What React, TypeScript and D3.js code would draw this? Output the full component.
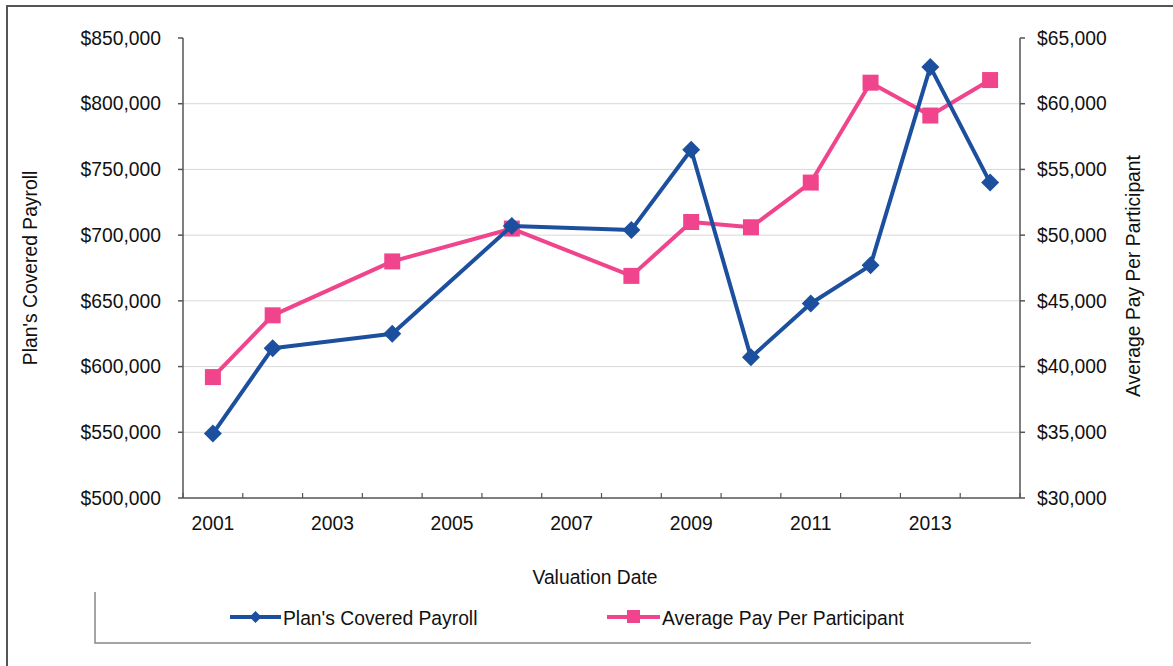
import React, { useEffect, useRef } from "react";
import * as d3 from "d3";

const years = [2001, 2002, 2004, 2006, 2008, 2009, 2010, 2011, 2012, 2013, 2014];
const payroll = [549000, 614000, 625000, 707000, 704000, 765000, 607000, 648000, 677000, 828000, 740000];
const avgPay = [39200, 43900, 48000, 50500, 46900, 51000, 50600, 54000, 61600, 59100, 61800];
const xTickYears = [2001, 2003, 2005, 2007, 2009, 2011, 2013];
const leftTicks = [500000, 550000, 600000, 650000, 700000, 750000, 800000, 850000];
const rightTicks = [30000, 35000, 40000, 45000, 50000, 55000, 60000, 65000];
const seriesNames = ["Plan's Covered Payroll", "Average Pay Per Participant"];

const BLUE = "#1d4f9f";
const PINK = "#f0448c";
const AXIS = "#555";
const GRID = "#d9d9d9";
const FONT = "'Liberation Sans', Arial, sans-serif";
const FS = 19.3;

export default function App() {
  const ref = useRef<SVGSVGElement>(null);
  useEffect(() => {
    const svg = d3.select(ref.current);
    svg.selectAll("*").remove();
    const W = 1173, H = 666;
    const L = 183, R = 1020, T = 38, B = 498;

    svg.append("rect").attr("width", W).attr("height", H).attr("fill", "#fff");
    svg.append("path").attr("d", `M7,${H} L7,6 L${W},6`).attr("fill", "none").attr("stroke", AXIS).attr("stroke-width", 2);

    const x = d3.scaleLinear().domain([2000.5, 2014.5]).range([L, R]);
    const yL = d3.scaleLinear().domain([500000, 850000]).range([B, T]);
    const yR = d3.scaleLinear().domain([30000, 65000]).range([B, T]);
    const money = d3.format("$,.0f");

    svg.append("g").selectAll("line").data(leftTicks.filter(t => t > 500000 && t < 850000)).join("line")
      .attr("x1", L).attr("x2", R).attr("y1", d => yL(d)).attr("y2", d => yL(d))
      .attr("stroke", GRID).attr("stroke-width", 1);

    const gl = svg.append("g").attr("font-family", FONT).attr("font-size", FS).attr("fill", "#111");
    gl.append("line").attr("x1", L).attr("x2", L).attr("y1", T).attr("y2", B).attr("stroke", AXIS).attr("stroke-width", 1.5);
    gl.selectAll("line.t").data(leftTicks).join("line").attr("class", "t")
      .attr("x1", L - 5).attr("x2", L).attr("y1", d => yL(d)).attr("y2", d => yL(d)).attr("stroke", AXIS).attr("stroke-width", 1.5);
    gl.selectAll("text").data(leftTicks).join("text")
      .attr("x", 161).attr("y", d => yL(d)).attr("dy", "0.35em").attr("text-anchor", "end").text(d => money(d));

    const gr = svg.append("g").attr("font-family", FONT).attr("font-size", FS).attr("fill", "#111");
    gr.append("line").attr("x1", R).attr("x2", R).attr("y1", T).attr("y2", B).attr("stroke", AXIS).attr("stroke-width", 1.5);
    gr.selectAll("line.t").data(rightTicks).join("line").attr("class", "t")
      .attr("x1", R).attr("x2", R + 5).attr("y1", d => yR(d)).attr("y2", d => yR(d)).attr("stroke", AXIS).attr("stroke-width", 1.5);
    gr.selectAll("text").data(rightTicks).join("text")
      .attr("x", 1037).attr("y", d => yR(d)).attr("dy", "0.35em").attr("text-anchor", "start").text(d => money(d));

    const gx = svg.append("g").attr("font-family", FONT).attr("font-size", FS).attr("fill", "#111");
    gx.append("line").attr("x1", L).attr("x2", R).attr("y1", B).attr("y2", B).attr("stroke", AXIS).attr("stroke-width", 1.5);
    const bounds = d3.range(2000.5, 2015, 1);
    gx.selectAll("line.t").data(bounds).join("line").attr("class", "t")
      .attr("x1", d => x(d)).attr("x2", d => x(d)).attr("y1", B - 5).attr("y2", B).attr("stroke", AXIS).attr("stroke-width", 1.2);
    gx.selectAll("text").data(xTickYears).join("text")
      .attr("x", d => x(d)).attr("y", 530).attr("text-anchor", "middle").text(d => String(d));

    svg.append("text").attr("font-family", FONT).attr("font-size", FS).attr("fill", "#111")
      .attr("x", 595).attr("y", 584).attr("text-anchor", "middle").text("Valuation Date");
    svg.append("text").attr("font-family", FONT).attr("font-size", FS).attr("fill", "#111")
      .attr("transform", `translate(37,${268}) rotate(-90)`).attr("text-anchor", "middle").text(seriesNames[0]);
    svg.append("text").attr("font-family", FONT).attr("font-size", FS).attr("fill", "#111")
      .attr("transform", `translate(1140,${276}) rotate(-90)`).attr("text-anchor", "middle").text(seriesNames[1]);

    const payData = years.map((yr, i) => ({ yr, v: payroll[i] }));
    const avgData = years.map((yr, i) => ({ yr, v: avgPay[i] }));
    const lineL = d3.line<{ yr: number; v: number }>().x(d => x(d.yr)).y(d => yL(d.v));
    const lineR = d3.line<{ yr: number; v: number }>().x(d => x(d.yr)).y(d => yR(d.v));

    svg.append("path").datum(avgData).attr("d", lineR).attr("fill", "none").attr("stroke", PINK).attr("stroke-width", 4).attr("stroke-linejoin", "round");
    svg.append("g").selectAll("rect").data(avgData).join("rect")
      .attr("x", d => x(d.yr) - 8).attr("y", d => yR(d.v) - 8).attr("width", 16).attr("height", 16).attr("fill", PINK);

    svg.append("path").datum(payData).attr("d", lineL).attr("fill", "none").attr("stroke", BLUE).attr("stroke-width", 4).attr("stroke-linejoin", "round");
    const diamond = (cx: number, cy: number, r: number) => `M${cx},${cy - r} L${cx + r},${cy} L${cx},${cy + r} L${cx - r},${cy} Z`;
    svg.append("g").selectAll("path").data(payData).join("path")
      .attr("d", d => diamond(x(d.yr), yL(d.v), 9)).attr("fill", BLUE);

    svg.append("path").attr("d", "M95,592 L95,643 L1031,643").attr("fill", "none").attr("stroke", "#888").attr("stroke-width", 1.5);
    const lg = svg.append("g").attr("font-family", FONT).attr("font-size", FS).attr("fill", "#111");
    lg.append("line").attr("x1", 230).attr("x2", 281).attr("y1", 617).attr("y2", 617).attr("stroke", BLUE).attr("stroke-width", 4);
    lg.append("path").attr("d", diamond(255.5, 617, 6)).attr("fill", BLUE);
    lg.append("text").attr("x", 283).attr("y", 618).attr("dy", "0.35em").text(seriesNames[0]);
    lg.append("line").attr("x1", 607).attr("x2", 660).attr("y1", 617).attr("y2", 617).attr("stroke", PINK).attr("stroke-width", 4);
    lg.append("rect").attr("x", 627).attr("y", 610).attr("width", 13).attr("height", 13).attr("fill", PINK);
    lg.append("text").attr("x", 662).attr("y", 618).attr("dy", "0.35em").text(seriesNames[1]);
  }, []);

  return (
    <svg ref={ref} width={1173} height={666} style={{ position: "absolute", left: 0, top: 0, display: "block" }} />
  );
}
